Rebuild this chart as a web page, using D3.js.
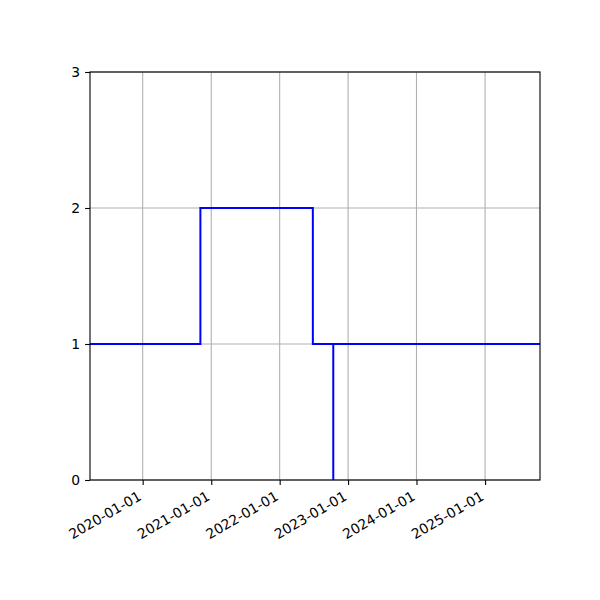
<!DOCTYPE html>
<html>
<head>
<meta charset="utf-8">
<script src="https://cdn.jsdelivr.net/npm/d3@7"></script>
<style>
  body { margin: 0; background: #fff; }
</style>
</head>
<body>
<script>
// Data: step series (value holds until next date)
var stepDates = ["2019-03-26", "2020-11-04", "2022-06-27", "2022-10-14", "2022-10-14", "2025-10-21"];
var stepValues = [1, 2, 1, 0, 1, 1];
var xTickLabels = ["2020-01-01", "2021-01-01", "2022-01-01", "2023-01-01", "2024-01-01", "2025-01-01"];
var yTicks = [0, 1, 2, 3];
var xDomain = ["2019-03-26", "2025-10-21"];

var parse = d3.utcParse("%Y-%m-%d");

var data = stepDates.map(function(d, i) {
    return { date: parse(d), value: stepValues[i] };
});

var width = 600, height = 600;
var margin = { left: 90, right: 60, top: 72, bottom: 120 };
var font = "DejaVu Sans, sans-serif";

var svg = d3.select("body")
    .append("svg")
    .attr("width", width)
    .attr("height", height);

var xScale = d3.scaleUtc()
    .domain(xDomain.map(parse))
    .range([margin.left, width - margin.right]);

var yScale = d3.scaleLinear()
    .domain([0, 3])
    .range([height - margin.bottom, margin.top]);

var xTicks = xTickLabels.map(parse);

// grid
svg.append("g")
    .selectAll("line")
    .data(xTicks)
    .enter()
    .append("line")
    .attr("x1", function(d) { return xScale(d); })
    .attr("x2", function(d) { return xScale(d); })
    .attr("y1", margin.top)
    .attr("y2", height - margin.bottom)
    .attr("stroke", "#b0b0b0")
    .attr("stroke-width", 1.1);

svg.append("g")
    .selectAll("line")
    .data(yTicks)
    .enter()
    .append("line")
    .attr("x1", margin.left)
    .attr("x2", width - margin.right)
    .attr("y1", function(d) { return yScale(d); })
    .attr("y2", function(d) { return yScale(d); })
    .attr("stroke", "#b0b0b0")
    .attr("stroke-width", 1.1);

// clip
svg.append("clipPath")
    .attr("id", "plot-clip")
    .append("rect")
    .attr("x", margin.left)
    .attr("y", margin.top)
    .attr("width", width - margin.left - margin.right)
    .attr("height", height - margin.top - margin.bottom);

var line = d3.line()
    .x(function(d) { return xScale(d.date); })
    .y(function(d) { return yScale(d.value); })
    .curve(d3.curveStepAfter);

svg.append("path")
    .datum(data)
    .attr("clip-path", "url(#plot-clip)")
    .attr("d", line)
    .attr("fill", "none")
    .attr("stroke", "#0000ff")
    .attr("stroke-width", 2);

// axes
var xAxis = d3.axisBottom(xScale)
    .tickValues(xTicks)
    .tickFormat(d3.utcFormat("%Y-%m-%d"))
    .tickSize(4.9)
    .tickPadding(4.9);

var gx = svg.append("g")
    .attr("transform", "translate(0," + (height - margin.bottom) + ")")
    .call(xAxis)
    .attr("font-family", font);

gx.select(".domain").remove();
gx.selectAll("line").attr("stroke", "#000").attr("stroke-width", 1.1);
gx.selectAll("text")
    .attr("font-size", "13.9px")
    .attr("fill", "#000")
    .attr("text-anchor", "end")
    .attr("y", 0)
    .attr("dy", "0.75em")
    .attr("transform", "translate(-6,10) rotate(-30)");

var yAxis = d3.axisLeft(yScale)
    .tickValues(yTicks)
    .tickFormat(d3.format("d"))
    .tickSize(4.9)
    .tickPadding(4.9);

var gy = svg.append("g")
    .attr("transform", "translate(" + margin.left + ",0)")
    .call(yAxis)
    .attr("font-family", font);

gy.select(".domain").remove();
gy.selectAll("line").attr("stroke", "#000").attr("stroke-width", 1.1);
gy.selectAll("text").attr("font-size", "13.9px").attr("fill", "#000");

// frame
svg.append("rect")
    .attr("x", margin.left)
    .attr("y", margin.top)
    .attr("width", width - margin.left - margin.right)
    .attr("height", height - margin.top - margin.bottom)
    .attr("fill", "none")
    .attr("stroke", "#000")
    .attr("stroke-width", 1.1);
</script>
</body>
</html>
